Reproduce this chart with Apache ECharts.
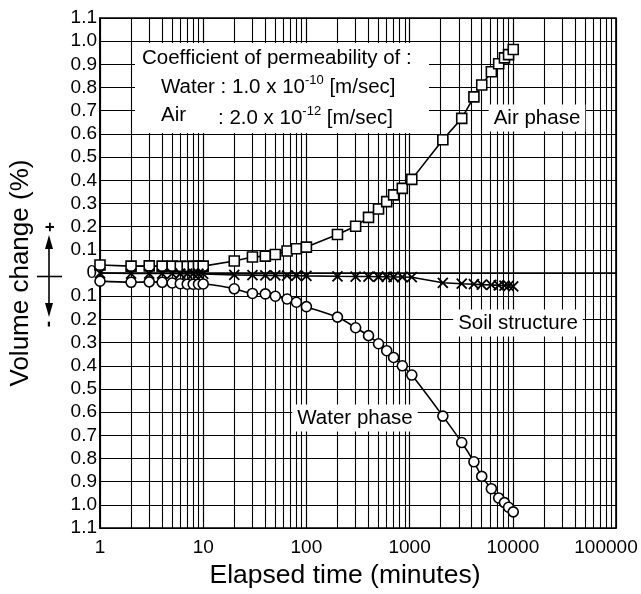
<!DOCTYPE html>
<html>
<head>
<meta charset="utf-8">
<script src="https://cdn.jsdelivr.net/npm/echarts@6/dist/echarts.min.js"></script>
<style>
  html, body { margin: 0; padding: 0; background: #fff; }
  #chart { width: 641px; height: 594px; }
</style>
</head>
<body>
<div id="chart"></div>
<script>
// elapsed time (minutes) of each reading
const times = [1, 2, 3, 4, 5, 6, 7, 8, 9, 10,
  20, 30, 40, 50, 65, 80, 100,
  200, 300, 400, 500, 600, 700, 850, 1050,
  2100, 3200, 4200, 5000, 6200, 7300, 8300, 9100, 10100]

// volume change (%), + is expansion
const airPhase = [0.035, 0.030, 0.031, 0.030, 0.030, 0.029, 0.029, 0.029, 0.030, 0.030,
  0.052, 0.069, 0.073, 0.080, 0.095, 0.105, 0.112,
  0.166, 0.202, 0.240, 0.276, 0.308, 0.337, 0.365, 0.404,
  0.575, 0.667, 0.760, 0.811, 0.868, 0.903, 0.928, 0.942, 0.964]

const soilStructure = [0.000, -0.002, -0.002, -0.002, -0.002, -0.003, -0.003, -0.003, -0.003, -0.004,
  -0.008, -0.009, -0.010, -0.010, -0.011, -0.011, -0.012,
  -0.014, -0.015, -0.015, -0.016, -0.016, -0.017, -0.017, -0.018,
  -0.042, -0.046, -0.048, -0.050, -0.051, -0.053, -0.054, -0.055, -0.057]

const waterPhase = [-0.035, -0.040, -0.038, -0.040, -0.043, -0.046, -0.048, -0.048, -0.048, -0.047,
  -0.068, -0.088, -0.090, -0.100, -0.112, -0.126, -0.145,
  -0.190, -0.236, -0.270, -0.305, -0.335, -0.364, -0.400, -0.440,
  -0.617, -0.731, -0.814, -0.877, -0.930, -0.970, -0.990, -1.010, -1.030]

const xTicks = [1, 10, 100, 1000, 10000, 100000]

const font = 'Liberation Sans, Arial, Helvetica, sans-serif'

// minor vertical grid lines 2..9 in every decade
const minorLines = []
xTicks.slice(0, -1).forEach((d) => {
  for (let m = 2; m <= 9; m++) minorLines.push({ xAxis: d * m })
})

const chart = echarts.init(document.getElementById('chart'), null, { renderer: 'canvas' })

const pts = (vals) => times.map((t, i) => [t, vals[i]])

const baseLine = {
  type: 'line',
  z: 10,
  animation: false,
  silent: true,
  emphasis: { disabled: true },
  lineStyle: { color: '#000', width: 1.6 }
}

const noteRich = {
  n: { fontSize: 20.5, fontFamily: font, lineHeight: 27, fill: '#000' },
  s: { fontSize: 13, fontFamily: font, lineHeight: 13, verticalAlign: 'top', fill: '#000' }
}

const curveLabel = (text, x, y) => ({
  type: 'text', z: 51, silent: true, x: x, y: y,
  style: {
    text: text, fontSize: 20.5, fontFamily: font, fill: '#000',
    align: 'center', verticalAlign: 'middle', backgroundColor: '#fff', padding: [3, 5]
  }
})

let option = {
  backgroundColor: '#fff',
  animation: false,
  grid: {
    left: 100,
    right: 25,
    top: 18,
    bottom: 61,
    show: true,
    borderColor: '#000',
    borderWidth: 1.6
  },
  xAxis: {
    type: 'log',
    logBase: 10,
    min: 1,
    max: 100000,
    name: 'Elapsed time (minutes)',
    nameLocation: 'middle',
    nameGap: 32,
    nameTextStyle: { fontSize: 26.5, color: '#000', fontFamily: font, padding: [0, 26, 0, 0] },
    axisLine: { lineStyle: { color: '#000', width: 1.6 } },
    axisTick: { show: false },
    splitLine: { show: true, lineStyle: { color: '#000', width: 1.2 } },
    axisLabel: {
      color: '#000',
      fontSize: 19,
      fontFamily: font,
      margin: 10,
      showMinLabel: true,
      showMaxLabel: true,
      formatter: (v) => {
        const s = String(Math.round(v))
        return v >= 100000 ? '{last|' + s + '}' : s
      },
      rich: {
        last: { fontSize: 19, fontFamily: font, color: '#000', padding: [0, 20, 0, 0] }
      }
    }
  },
  yAxis: {
    type: 'value',
    min: -1.1,
    max: 1.1,
    interval: 0.1,
    name: 'Volume change (%)',
    nameLocation: 'middle',
    nameGap: 66,
    nameTextStyle: { fontSize: 26, color: '#000', fontFamily: font },
    axisLine: { lineStyle: { color: '#000', width: 1.6 } },
    axisTick: { show: false },
    splitLine: { show: true, lineStyle: { color: '#000', width: 1.2 } },
    axisLabel: {
      color: '#000',
      fontSize: 19,
      fontFamily: font,
      margin: 3,
      formatter: (v) => (Math.abs(v) < 1e-6 ? '0' : Math.abs(v).toFixed(1))
    }
  },
  graphic: [
    // permeability note
    {
      type: 'rect', z: 50, silent: true,
      shape: { x: 135, y: 43, width: 294, height: 90 },
      style: { fill: '#fff' }
    },
    {
      type: 'text', z: 51, silent: true, left: 142, top: 48,
      style: { text: 'Coefficient of permeability of :', fontSize: 20.5, fontFamily: font, fill: '#000' }
    },
    {
      type: 'text', z: 51, silent: true, left: 161, top: 74,
      style: { text: '{n|Water : 1.0 x 10}{s|-10}{n| [m/sec]}', rich: noteRich }
    },
    {
      type: 'text', z: 51, silent: true, left: 161, top: 105,
      style: { text: '{n|Air}', rich: noteRich }
    },
    {
      type: 'text', z: 51, silent: true, left: 218, top: 105,
      style: { text: '{n|: 2.0 x 10}{s|-12}{n| [m/sec]}', rich: noteRich }
    },
    // curve labels
    curveLabel('Air phase', 537, 118),
    curveLabel('Soil structure', 518, 323),
    curveLabel('Water phase', 355, 418),
    // +/- arrows beside the axis name
    {
      type: 'line', silent: true,
      shape: { x1: 49, y1: 240, x2: 49, y2: 312 },
      style: { stroke: '#000', lineWidth: 1.6 }
    },
    {
      type: 'line', silent: true,
      shape: { x1: 37, y1: 276.5, x2: 62, y2: 276.5 },
      style: { stroke: '#000', lineWidth: 1.6 }
    },
    {
      type: 'polygon', silent: true,
      shape: { points: [[49, 235], [45, 249], [53, 249]] },
      style: { fill: '#000' }
    },
    {
      type: 'polygon', silent: true,
      shape: { points: [[49, 317], [45, 303], [53, 303]] },
      style: { fill: '#000' }
    },
    {
      type: 'text', silent: true, x: 50, y: 227, rotation: Math.PI / 2,
      style: { text: '+', fontSize: 17, fontWeight: 'bold', fontFamily: font, fill: '#000', align: 'center', verticalAlign: 'middle' }
    },
    {
      type: 'text', silent: true, x: 49, y: 324, rotation: Math.PI / 2,
      style: { text: '-', fontSize: 19, fontWeight: 'bold', fontFamily: font, fill: '#000', align: 'center', verticalAlign: 'middle' }
    }
  ],
  series: [
    {
      type: 'line',
      name: 'grid',
      data: [],
      z: 1,
      silent: true,
      animation: false,
      markLine: {
        silent: true,
        animation: false,
        symbol: ['none', 'none'],
        label: { show: false },
        emphasis: { disabled: true },
        lineStyle: { color: '#000', width: 1.1, type: 'solid' },
        data: minorLines
      }
    },
    {
      ...baseLine,
      name: 'Air phase',
      symbol: 'rect',
      symbolSize: 10,
      itemStyle: { color: '#fff', borderColor: '#000', borderWidth: 1.6 },
      data: pts(airPhase)
    },
    {
      ...baseLine,
      name: 'Soil structure',
      symbol: 'path://M0,0L10,10M10,0L0,10',
      symbolSize: 10,
      itemStyle: { color: '#000', borderColor: '#000', borderWidth: 1.8 },
      data: pts(soilStructure)
    },
    {
      ...baseLine,
      name: 'Water phase',
      symbol: 'circle',
      symbolSize: 10,
      smooth: 0.3,
      itemStyle: { color: '#fff', borderColor: '#000', borderWidth: 1.6 },
      data: pts(waterPhase)
    }
  ]
}

option && chart.setOption(option)
</script>
</body>
</html>
